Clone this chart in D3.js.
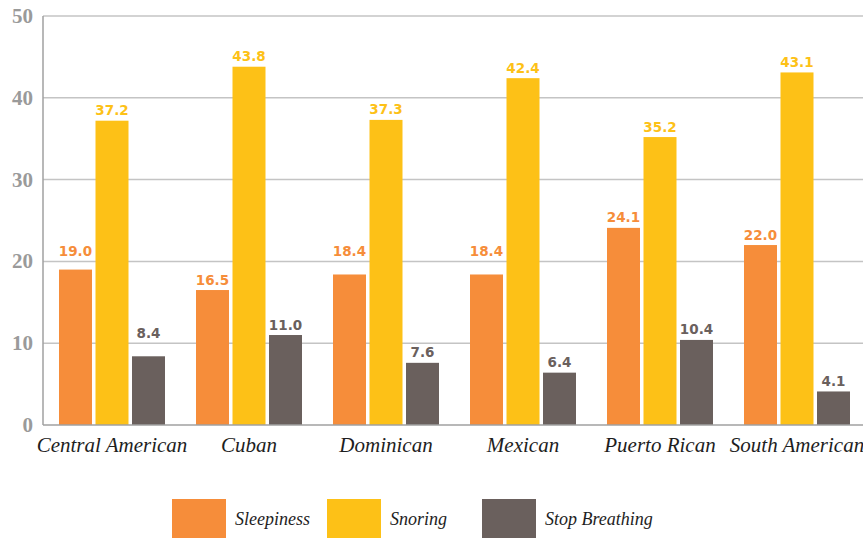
<!DOCTYPE html>
<html>
<head>
<meta charset="utf-8">
<script src="https://cdn.jsdelivr.net/npm/d3@7"></script>
<style>
  body { margin: 0; background: #fff; }
  svg { display: block; }
</style>
</head>
<body>
<svg id="chart" width="863" height="538"></svg>
<script>
// data
const groups = ["Central American", "Cuban", "Dominican", "Mexican", "Puerto Rican", "South American"];
const seriesNames = ["Sleepiness", "Snoring", "Stop Breathing"];
const sleepiness = [19.0, 16.5, 18.4, 18.4, 24.1, 22.0];
const snoring = [37.2, 43.8, 37.3, 42.4, 35.2, 43.1];
const stopBreathing = [8.4, 11.0, 7.6, 6.4, 10.4, 4.1];
const yTicks = [0, 10, 20, 30, 40, 50];
const colors = ["#f68d3a", "#fdc117", "#6a605d"];

const svg = d3.select("#chart"),
    width = +svg.attr("width"),
    height = +svg.attr("height");

const plotLeft = 43, plotTop = 16, plotBottom = 425;

const y = d3.scaleLinear().domain([0, 50]).range([plotBottom, plotTop]);

const x0 = d3.scaleBand()
    .domain(groups)
    .range([plotLeft, 866])
    .paddingInner(0.2263)
    .paddingOuter(0.1168);

const x1 = d3.scaleBand()
    .domain(seriesNames)
    .range([0, x0.bandwidth()])
    .paddingInner(0.096);

const color = d3.scaleOrdinal().domain(seriesNames).range(colors);

const values = [sleepiness, snoring, stopBreathing];
const rows = [];
groups.forEach(function (g, i) {
    seriesNames.forEach(function (s, j) {
        rows.push({group: g, series: s, value: values[j][i]});
    });
});

// gridlines
svg.append("g")
    .selectAll("line")
    .data(yTicks.filter(function (d) { return d > 0; }))
    .enter().append("line")
    .attr("x1", plotLeft).attr("x2", width)
    .attr("y1", function (d) { return y(d); })
    .attr("y2", function (d) { return y(d); })
    .attr("stroke", "#c4c4c4")
    .attr("stroke-width", 1.5);

// bars
svg.append("g")
    .selectAll("rect")
    .data(rows)
    .enter().append("rect")
    .attr("x", function (d) { return x0(d.group) + x1(d.series); })
    .attr("y", function (d) { return y(d.value); })
    .attr("width", x1.bandwidth())
    .attr("height", function (d) { return y(0) - y(d.value); })
    .attr("fill", function (d) { return color(d.series); });

// value labels, nudged above a gridline when they would sit on it
function labelY(v) {
    let base = y(v) - 5.5;
    yTicks.forEach(function (t) {
        const gy = y(t);
        if (t > 0 && gy > base - 12 && gy < base + 2) base = gy - 5;
    });
    return base;
}

svg.append("g")
    .selectAll("text")
    .data(rows)
    .enter().append("text")
    .attr("x", function (d) { return x0(d.group) + x1(d.series) + x1.bandwidth() / 2; })
    .attr("y", function (d) { return labelY(d.value); })
    .attr("text-anchor", "middle")
    .style("font-family", "'DejaVu Sans', sans-serif")
    .style("font-weight", "bold")
    .style("font-size", "13.5px")
    .attr("fill", function (d) { return color(d.series); })
    .text(function (d) { return d.value.toFixed(1); });

// axes lines
svg.append("line")
    .attr("x1", plotLeft).attr("x2", plotLeft)
    .attr("y1", plotTop).attr("y2", plotBottom)
    .attr("stroke", "#a0a0a0").attr("stroke-width", 1.5);
svg.append("line")
    .attr("x1", plotLeft).attr("x2", width)
    .attr("y1", plotBottom).attr("y2", plotBottom)
    .attr("stroke", "#a0a0a0").attr("stroke-width", 1.5);

// y tick labels
svg.append("g")
    .selectAll("text")
    .data(yTicks)
    .enter().append("text")
    .attr("x", 33)
    .attr("y", function (d) { return y(d) + 7; })
    .attr("text-anchor", "end")
    .style("font-family", "'Liberation Serif', 'DejaVu Serif', serif")
    .style("font-weight", "bold")
    .style("font-size", "21px")
    .attr("fill", "#9a9a9a")
    .text(function (d) { return d; });

// x labels
svg.append("g")
    .selectAll("text")
    .data(groups)
    .enter().append("text")
    .attr("x", function (d) { return x0(d) + x0.bandwidth() / 2; })
    .attr("y", 452)
    .attr("text-anchor", "middle")
    .style("font-family", "'Liberation Serif', serif")
    .style("font-style", "italic")
    .style("font-size", "21px")
    .attr("fill", "#1e1e1e")
    .text(function (d) { return d; });

// legend
const legendX = [172, 327, 482];
const legend = svg.append("g")
    .selectAll("g")
    .data(seriesNames)
    .enter().append("g")
    .attr("transform", function (d, i) { return "translate(" + legendX[i] + ",499)"; });

legend.append("rect")
    .attr("width", 54)
    .attr("height", 39)
    .attr("fill", function (d) { return color(d); });

legend.append("text")
    .attr("x", 63)
    .attr("y", 26)
    .style("font-family", "'Liberation Serif', serif")
    .style("font-style", "italic")
    .style("font-size", "18px")
    .attr("fill", "#1e1e1e")
    .text(function (d) { return d; });
</script>
</body>
</html>
